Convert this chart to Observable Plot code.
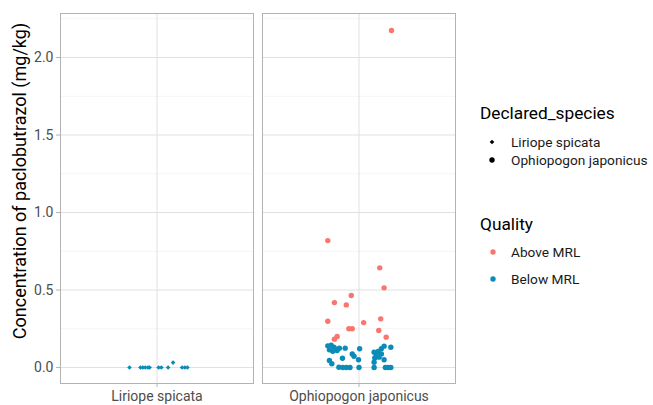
<!DOCTYPE html>
<html><head><meta charset="utf-8">
<script src="https://cdn.jsdelivr.net/npm/d3@7"></script>
<script src="https://cdn.jsdelivr.net/npm/@observablehq/plot@0.6"></script>
<style>
body{margin:0;background:#fff;}
#wrap{position:relative;width:653px;height:405px;font-family:Roboto,"Liberation Sans",Arial,sans-serif;}
#wrap svg{position:absolute;top:0;}
</style></head><body><div id="wrap"></div>
<script>
const species = ["Liriope spicata", "Ophiopogon japonicus"];
const qualities = ["Above MRL", "Below MRL"];
const qualityColors = ["#F8766D", "#0B8CB8"];
const yTicks = [0, 0.5, 1, 1.5, 2];
const yMinor = [0.25, 0.75, 1.25, 1.75, 2.25];
const yTitle = "Concentration of paclobutrazol (mg/kg)";

// Liriope spicata (all Below MRL): jitter offset (category units) and value
const liriopeJitter = [-0.171, -0.103, -0.088, -0.073, -0.056, -0.046, 0.010, 0.027, 0.069, 0.100, 0.156, 0.173, 0.189];
const liriopeValue  = [0, 0, 0, 0, 0, 0, 0, 0, 0, 0.032, 0, 0, 0];

// Ophiopogon japonicus, Above MRL
const ophioAboveJitter = [0.202, -0.194, 0.129, 0.156, -0.048, -0.153, -0.079, 0.135, -0.194, 0.029, -0.063, -0.042, 0.123, -0.136, 0.169, -0.153];
const ophioAboveValue  = [2.174, 0.819, 0.643, 0.514, 0.465, 0.419, 0.404, 0.314, 0.299, 0.290, 0.250, 0.250, 0.239, 0.200, 0.196, 0.183];

// Ophiopogon japonicus, Below MRL
const ophioBelowJitter = [-0.194, -0.173, -0.156, -0.184, -0.163, -0.136, -0.086, 0.004, -0.103, -0.042, -0.031, -0.003, -0.184, -0.169, -0.125, -0.100, -0.078, -0.056, 0.000, 0.094, 0.164, 0.181, 0.198, 0.094, 0.119, 0.139, 0.156, 0.198, 0.108, 0.098, 0.125, 0.156, 0.139, 0.094, -0.148, -0.122];
const ophioBelowValue  = [0.140, 0.144, 0.131, 0.114, 0.105, 0.110, 0.125, 0.121, 0.060, 0.088, 0.073, 0.050, 0.045, 0.024, 0.002, 0, 0, 0, 0, 0, 0, 0, 0, 0.099, 0.103, 0.121, 0.138, 0.131, 0.077, 0.062, 0.067, 0.050, 0.088, 0.034, 0.120, 0.125];

const liriope = liriopeJitter.map((j, i) => ({species: species[0], quality: qualities[1], jitter: j, value: liriopeValue[i]}));
const ophio = [
  ...ophioBelowJitter.map((j, i) => ({species: species[1], quality: qualities[1], jitter: j, value: ophioBelowValue[i]})),
  ...ophioAboveJitter.map((j, i) => ({species: species[1], quality: qualities[0], jitter: j, value: ophioAboveValue[i]}))
];

const font = 'Roboto, "Liberation Sans", Arial, sans-serif';
const plot = Plot.plot({
  width: 465, height: 405,
  marginLeft: 60, marginRight: 10, marginTop: 13, marginBottom: 22,
  style: {fontFamily: font, fontSize: "14px", background: "white"},
  fx: {domain: species, padding: 0.045, label: null, axis: null},
  x: {domain: [-0.6, 0.6], axis: null},
  y: {domain: [-0.103, 2.284], axis: null},
  color: {domain: qualities, range: qualityColors},
  marks: [
    Plot.ruleY(yMinor, {stroke: "#EDEDED", strokeWidth: 0.6}),
    Plot.ruleY(yTicks, {stroke: "#E0E0E0", strokeWidth: 1}),
    Plot.ruleX([0], {stroke: "#E0E0E0", strokeWidth: 1}),
    Plot.frame({stroke: "#B3B3B3", strokeWidth: 1}),
    Plot.axisY({ticks: yTicks, tickFormat: d3.format(".1f"), tickSize: 4, tickPadding: 3, stroke: "#B3B3B3", fill: "#4D4D4D", fontSize: 14, label: null}),
    Plot.axisFx({anchor: "bottom", tickSize: 4, tickPadding: 4, stroke: "#B3B3B3", fill: "#4D4D4D", fontSize: 14, label: null}),
    Plot.dot(liriope, {fx: "species", x: "jitter", y: "value", fill: "quality", symbol: "diamond2", r: 2.1}),
    Plot.dot(ophio, {fx: "species", x: "jitter", y: "value", fill: "quality", symbol: "circle", r: 2.7})
  ]
});
d3.select(plot).style("left", "0px");
d3.select(plot).append("text")
  .attr("transform", "translate(19,181) rotate(-90)")
  .attr("text-anchor", "middle").attr("dominant-baseline", "central")
  .attr("font-size", 18).attr("fill", "#000").attr("font-family", font)
  .text(yTitle);
document.getElementById("wrap").appendChild(plot);

// Legend
const leg = d3.select("#wrap").append("svg")
  .attr("width", 188).attr("height", 405).style("left", "465px")
  .attr("font-family", font);
const lx = 15;
leg.append("text").attr("x", lx).attr("y", 113).attr("dominant-baseline", "central")
  .attr("font-size", 17.3).attr("fill", "#000").text("Declared_species");
const diamond = d3.symbol(d3.symbolDiamond2, 2.1 * 2.1 * Math.PI)();
const circle = d3.symbol(d3.symbolCircle, 2.7 * 2.7 * Math.PI)();
species.forEach((s, i) => {
  const y = 142 + i * 18;
  leg.append("path").attr("d", i === 0 ? diamond : circle).attr("transform", `translate(27,${y})`).attr("fill", "#000");
  leg.append("text").attr("x", 46).attr("y", y).attr("dominant-baseline", "central")
    .attr("font-size", 13.7).attr("fill", "#1A1A1A").text(s);
});
leg.append("text").attr("x", lx).attr("y", 224).attr("dominant-baseline", "central")
  .attr("font-size", 17.3).attr("fill", "#000").text("Quality");
qualities.forEach((q, i) => {
  const y = 252 + i * 27;
  leg.append("path").attr("d", circle).attr("transform", `translate(28,${y})`).attr("fill", qualityColors[i]);
  leg.append("text").attr("x", 46).attr("y", y).attr("dominant-baseline", "central")
    .attr("font-size", 13.7).attr("fill", "#1A1A1A").text(q);
});
</script></body></html>
